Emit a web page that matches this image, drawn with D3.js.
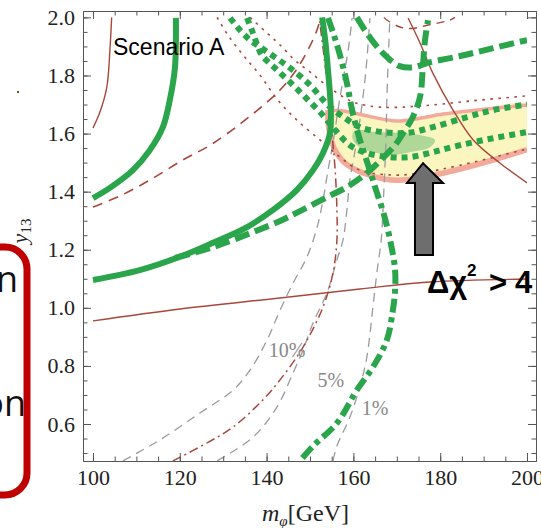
<!DOCTYPE html>
<html>
<head>
<meta charset="utf-8">
<script src="https://cdn.jsdelivr.net/npm/d3@7"></script>
<style>
  body { margin: 0; background: #fff; }
  svg { display: block; }
</style>
</head>
<body>
<div id="chart_div"></div>
<script>
// ---- data (m_phi in GeV vs y13) ----
const xMajor = [100, 120, 140, 160, 180, 200];
const xMinor = d3.range(100, 201, 5);
const yMajor = [0.6, 0.8, 1.0, 1.2, 1.4, 1.6, 1.8, 2.0];
const yMinor = d3.range(0.5, 2.01, 0.05);

// thick green solid contours
const greenSolidLeft = [[100,1.378],[103.9,1.413],[109.2,1.474],[113.1,1.543],[116.1,1.622],[117.7,1.715],[118.9,1.829],[119.1,1.998]];
const greenSolidMain = [[100,1.096],[110.8,1.130],[120.05,1.176],[127.65,1.224],[135.5,1.278],[141.5,1.337],[147.0,1.406],[150.7,1.474],[153.0,1.533],[154.6,1.602],[154.8,1.681],[154.15,1.819],[153.5,1.922],[152.8,2.0]];
// thick green dashed
const greenDashedB = [[118.9,1.172],[127.65,1.209],[136.9,1.261],[143.1,1.299],[147.7,1.333],[153.9,1.381],[158.5,1.416],[163.1,1.464],[166.8,1.516],[169.6,1.560],[171.9,1.612],[173.7,1.657],[175.35,1.726],[176.0,1.829],[176.5,1.922],[177.2,1.99]];
const greenDashedV = [[160.8,2.0],[163.1,1.946],[166.8,1.877],[170.7,1.832],[174.2,1.829],[177.0,1.843],[184.6,1.867],[192.2,1.894],[200,1.922]];
// thick green dash-dot
const greenDashDot = [[154.15,1.998],[155.5,1.939],[156.9,1.870],[158.5,1.774],[159.7,1.681],[161.5,1.578],[163.4,1.491],[165.2,1.406],[167.05,1.320],[168.7,1.216],[169.6,1.130],[169.6,1.061],[169.1,0.992],[167.7,0.889],[164.5,0.796],[160.8,0.717],[156.2,0.603],[150.7,0.524],[147.7,0.473]];
// thick green dotted pair
const greenDottedUpper = [[131.6,1.998],[133.9,1.956],[136.2,1.922],[138.5,1.898],[141.9,1.863],[145.4,1.826],[150.0,1.767],[154.15,1.698],[158.1,1.653],[161.5,1.622],[166.8,1.605],[172.35,1.602],[178.3,1.622],[186.2,1.657],[192.2,1.681],[200,1.70]];
const greenDottedLower = [[135.5,1.998],[136.6,1.956],[137.6,1.915],[138.9,1.870],[141.9,1.826],[145.4,1.777],[148.85,1.726],[152.3,1.674],[155.8,1.612],[159.2,1.560],[163.1,1.533],[168.4,1.519],[173.0,1.519],[178.3,1.536],[184.6,1.560],[192.2,1.584],[200,1.605]];

// thin red-brown contours
const brownSolidTop = [[100,1.619],[101.6,1.674],[103.2,1.761],[103.9,1.887],[104.3,2.0]];
const brownSolidRight = [[172.6,1.998],[175.35,1.912],[178.3,1.808],[182.95,1.681],[187.6,1.578],[193.8,1.498],[200,1.430]];
const brownSolidLow = [[100,0.955],[120.05,0.996],[143.1,1.034],[161.5,1.065],[177.65,1.089],[200,1.099]];
const brownDashed = [[100,1.347],[106.2,1.385],[113.1,1.440],[120.7,1.509],[127.0,1.560],[133.9,1.633],[139.6,1.702],[143.1,1.750],[146.5,1.812],[149.5,1.887],[151.6,1.956],[152.5,2.0]];
const brownDashedTop = [[167.05,2.0],[167.7,1.991],[170.7,1.967],[173.5,1.962],[177.0,1.973],[182.3,1.991],[183.4,2.0]];
const brownDottedLower = [[128.6,2.0],[131.1,1.939],[134.6,1.870],[138.5,1.801],[142.6,1.715],[147.0,1.646],[152.3,1.578],[156.9,1.519],[161.5,1.474],[169.1,1.457],[175.35,1.464],[184.6,1.491],[200,1.547]];
const brownDottedUpper = [[136.2,2.0],[140.1,1.946],[143.1,1.905],[146.5,1.853],[150.0,1.812],[154.6,1.757],[159.9,1.709],[166.1,1.691],[175.35,1.695],[186.9,1.712],[200,1.730]];
const brownDashDot = [[118.4,0.473],[126.3,0.535],[132.3,0.590],[138.5,0.673],[143.1,0.752],[148.4,0.865],[153.0,1.003],[155.3,1.120],[156.2,1.233],[156.2,1.337],[155.8,1.474],[155.1,1.595],[154.4,1.715],[153.2,1.870],[152.1,2.0]];

// grey dashed contours with their labels
const grey10 = [[106.9,0.473],[115.4,0.545],[124.65,0.638],[132.3,0.717],[136.2,0.786],[140.1,0.889],[143.1,0.992],[146.1,1.085],[149.3,1.175],[151.6,1.275],[153.0,1.371],[154.15,1.474],[155.3,1.567],[156.45,1.681],[157.6,1.784],[158.8,1.887],[159.7,1.998]];
const grey5 = [[128.6,0.473],[136.9,0.555],[142.4,0.659],[146.1,0.776],[148.4,0.855],[150.7,0.948],[153.9,1.051],[156.2,1.165],[157.6,1.233],[158.5,1.337],[159.2,1.440],[160.4,1.543],[161.5,1.646],[162.4,1.750],[163.1,1.853],[163.8,1.998]];
const grey1 = [[155.3,0.473],[156.2,0.524],[159.2,0.624],[161.5,0.728],[163.1,0.831],[164.5,1.003],[165.4,1.120],[166.4,1.233],[167.05,1.416],[167.5,1.578],[167.7,1.715],[168.2,1.922],[168.4,1.998]];
const greyLabels = ["10%", "5%", "1%"];
const greyLabelPos = [[144.7,0.855],[154.8,0.751],[165.0,0.655]];

// best-fit band and inner region
const bandUpper = [[154.15,1.681],[158.1,1.677],[162.2,1.664],[170.05,1.643],[175.35,1.653],[180.65,1.667],[188.5,1.681],[200,1.698]];
const bandLower = [[200,1.545],[192.2,1.509],[184.6,1.478],[177.65,1.454],[171.4,1.440],[167.3,1.443],[162.2,1.464],[158.1,1.498],[155.8,1.543],[154.6,1.595],[154.15,1.646]];
const innerBlob = [[159.9,1.602],[161.5,1.612],[165.4,1.605],[170.7,1.602],[175.35,1.595],[178.8,1.578],[177.65,1.553],[173.0,1.536],[169.1,1.526],[165.4,1.533],[161.5,1.553],[159.9,1.578]];

// arrow annotation (tip, head base, shaft bottom)
const arrowX = [172.35, 174.19, 176.04, 178.34, 180.65];
const arrowY = [1.498, 1.430, 1.182];

// ---- layout ----
const W = 541, H = 528;
const x = d3.scaleLinear().domain([97.7, 202.07]).range([83, 536]);
const y = d3.scaleLinear().domain([0.4726, 2.022]).range([461, 11]);

const svg = d3.select("#chart_div").append("svg")
  .attr("width", W).attr("height", H)
  .style("font-family", "'Liberation Serif', 'Times New Roman', serif");

svg.append("defs").append("clipPath").attr("id", "plotclip")
  .append("rect").attr("x", 83).attr("y", 11).attr("width", 444).attr("height", 450);

const plot = svg.append("g").attr("clip-path", "url(#plotclip)");
const line = d3.line().x(d => x(d[0])).y(d => y(d[1])).curve(d3.curveCatmullRom.alpha(0.5));
const closed = d3.line().x(d => x(d[0])).y(d => y(d[1])).curve(d3.curveCatmullRomClosed.alpha(0.5));

const GREEN = "#2ba54b", BROWN = "#a8483b", GREY = "#9b9b9b";

function draw(data, color, width, dash) {
  plot.append("path").datum(data)
    .attr("d", line)
    .attr("fill", "none")
    .attr("stroke", color)
    .attr("stroke-width", width)
    .attr("stroke-dasharray", dash || null);
}

// band: fill first, then pink edges along top, left and bottom (open at x = 200)
plot.append("path").datum(bandUpper.concat(bandLower))
  .attr("d", line)
  .attr("fill", "#fbf6c0");
draw(bandUpper, "#f3aa9a", 3.5);
draw(bandLower.concat([bandUpper[0]]), "#f3aa9a", 5.5);
plot.append("path").datum(innerBlob)
  .attr("d", closed)
  .attr("fill", "#8fcb88")
  .attr("fill-opacity", 0.7);

// grey lines
[grey10, grey5, grey1].forEach(g => draw(g, GREY, 1.3, "9,6"));

// thin brown lines
draw(brownSolidTop, BROWN, 1.4);
draw(brownSolidRight, BROWN, 1.4);
draw(brownSolidLow, BROWN, 1.4);
draw(brownDashed, BROWN, 1.6, "10,7");
draw(brownDashedTop, BROWN, 1.4, "8,6");
draw(brownDottedLower, BROWN, 1.6, "2.5,5.5");
draw(brownDottedUpper, BROWN, 1.6, "2.5,5.5");
draw(brownDashDot, BROWN, 1.5, "9,4,2,4");

// thick green lines
draw(greenSolidLeft, GREEN, 6);
draw(greenSolidMain, GREEN, 6);
draw(greenDashedB, GREEN, 6, "15,6");
draw(greenDashedV, GREEN, 6, "15,6");
draw(greenDashDot, GREEN, 6, "14,5,5,5");
draw(greenDottedUpper, GREEN, 6, "6,5");
draw(greenDottedLower, GREEN, 6, "6,5");

// percentage labels
svg.append("g").selectAll("text").data(greyLabels).enter().append("text")
  .attr("x", (d, i) => x(greyLabelPos[i][0]))
  .attr("y", (d, i) => y(greyLabelPos[i][1]))
  .attr("text-anchor", "middle")
  .attr("dy", "0.35em")
  .attr("fill", "#888")
  .style("font-size", "20px")
  .text(d => d);

// ---- frame and ticks ----
const axes = svg.append("g").attr("color", "#555");
function ax(gen, tx, ty, vals, size, labels) {
  const g = axes.append("g").attr("transform", `translate(${tx},${ty})`)
    .call(gen.tickValues(vals).tickSizeInner(-size).tickSizeOuter(0)
      .tickFormat(labels ? labels : "").tickPadding(labels ? 8 : 0));
  g.selectAll("text").style("font-size", "22px").attr("fill", "#222")
    .style("font-family", "'Liberation Serif', serif");
  return g;
}
ax(d3.axisBottom(x), 0, 461, xMinor, 4.5);
ax(d3.axisBottom(x), 0, 461, xMajor, 8, d3.format("d"));
ax(d3.axisTop(x), 0, 11, xMinor, 4.5);
ax(d3.axisTop(x), 0, 11, xMajor, 8);
ax(d3.axisLeft(y), 83, 0, yMinor, 4.5);
ax(d3.axisLeft(y), 83, 0, yMajor, 8, d3.format(".1f"));
ax(d3.axisRight(y), 536, 0, yMinor, 4.5);
ax(d3.axisRight(y), 536, 0, yMajor, 8);
axes.selectAll(".domain").attr("stroke", "#555");

// axis titles
const xt = svg.append("text").attr("x", 262).attr("y", 521).style("font-size", "24px").attr("fill", "#222");
xt.append("tspan").style("font-style", "italic").text("m");
xt.append("tspan").style("font-style", "italic").style("font-size", "15px").attr("dy", 5).text("φ");
xt.append("tspan").attr("dy", -5).text("[GeV]");

const yt = svg.append("text").attr("transform", "translate(27,231) rotate(-90)")
  .attr("text-anchor", "middle").style("font-size", "22px").attr("fill", "#222");
yt.append("tspan").style("font-style", "italic").text("y");
yt.append("tspan").style("font-size", "15px").attr("dy", 4).text("13");

// scenario label
svg.append("text").attr("x", 113).attr("y", 55)
  .style("font-family", "'Liberation Sans', Arial, sans-serif").style("font-size", "23px")
  .text("Scenario A");

// arrow
const arrowPts = [
  [arrowX[2], arrowY[0]], [arrowX[4], arrowY[1]], [arrowX[3], arrowY[1]], [arrowX[3], arrowY[2]],
  [arrowX[1], arrowY[2]], [arrowX[1], arrowY[1]], [arrowX[0], arrowY[1]]
];
svg.append("path")
  .attr("d", d3.line().x(d => x(d[0])).y(d => y(d[1]))(arrowPts) + "Z")
  .attr("fill", "#6e6e6e").attr("stroke", "#000").attr("stroke-width", 2);

// delta chi^2 label
const lab = svg.append("g").style("font-family", "'Liberation Sans', Arial, sans-serif")
  .style("font-weight", "bold").attr("fill", "#000");
lab.append("text").attr("x", 427).attr("y", 293).style("font-size", "31px").text("Δχ");
lab.append("text").attr("x", 467).attr("y", 276).style("font-size", "17px").text("2");
lab.append("text").attr("x", 489).attr("y", 293).style("font-size", "31px").text(">");
lab.append("text").attr("x", 515).attr("y", 293).style("font-size", "31px").text("4");

// slide fragments on the left
const side = svg.append("g").style("font-family", "'Open Sans', 'Liberation Sans', sans-serif")
  .style("font-size", "36px").attr("fill", "#111").attr("text-anchor", "end");
side.append("text").attr("x", 18).attr("y", 292).text("n");
side.append("text").attr("x", 26).attr("y", 416).text("on");
svg.append("rect").attr("x", -100).attr("y", 247).attr("width", 127).attr("height", 248)
  .attr("rx", 22).attr("fill", "none").attr("stroke", "#c00000").attr("stroke-width", 7);
svg.append("rect").attr("x", 17).attr("y", 91).attr("width", 2).attr("height", 2).attr("fill", "#6b5a10");
</script>
</body>
</html>
